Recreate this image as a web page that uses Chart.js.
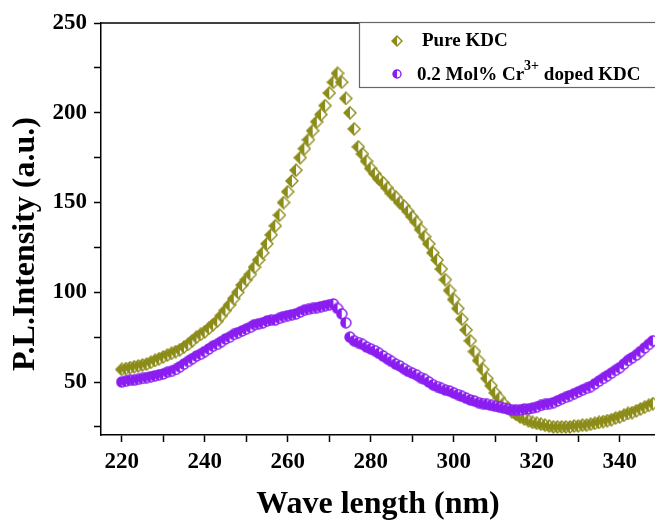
<!DOCTYPE html>
<html>
<head>
<meta charset="utf-8">
<script src="https://cdn.jsdelivr.net/npm/chart.js@4.4.1/dist/chart.umd.min.js"></script>
<style>
  html, body { margin: 0; padding: 0; background: #fff; }
  canvas { display: block; }
</style>
</head>
<body>
<canvas id="chart" width="655" height="524"></canvas>
<script>
// wavelength (nm), one reading per nm
const wavelengths = [
  220, 221, 222, 223, 224, 225, 226, 227, 228, 229,
  230, 231, 232, 233, 234, 235, 236, 237, 238, 239,
  240, 241, 242, 243, 244, 245, 246, 247, 248, 249,
  250, 251, 252, 253, 254, 255, 256, 257, 258, 259,
  260, 261, 262, 263, 264, 265, 266, 267, 268, 269,
  270, 271, 272, 273, 274, 275, 276, 277, 278, 279,
  280, 281, 282, 283, 284, 285, 286, 287, 288, 289,
  290, 291, 292, 293, 294, 295, 296, 297, 298, 299,
  300, 301, 302, 303, 304, 305, 306, 307, 308, 309,
  310, 311, 312, 313, 314, 315, 316, 317, 318, 319,
  320, 321, 322, 323, 324, 325, 326, 327, 328, 329,
  330, 331, 332, 333, 334, 335, 336, 337, 338, 339,
  340, 341, 342, 343, 344, 345, 346, 347, 348
];

const pureKdc = [
  57, 57.5, 58, 58.5, 59, 59.5, 60, 61, 62, 63,
  64, 65, 66, 67, 68, 69.5, 71, 73, 75, 76.5,
  78, 80, 82, 84, 87, 90, 93, 96.5, 100, 104,
  107, 110, 114, 118, 122, 127, 132, 137, 143, 150,
  156, 162, 168, 175, 180, 185, 190, 195, 199, 204,
  211, 217, 222, 217, 208, 200, 191, 181, 177, 173,
  169, 166, 163, 161, 158, 155, 153, 150, 148, 145,
  142, 139, 135, 131, 127, 122, 118, 113, 107, 101,
  96, 91, 85, 79, 73, 67, 62, 57, 52, 48,
  44, 41, 38, 35.5, 33.5, 32, 30.5, 29.5, 28.5, 27.5,
  27, 26.5, 26, 25.5, 25, 25, 25, 25, 25, 25.5,
  25.5, 26, 26, 26.5, 27, 27.5, 28, 28.5, 29, 30,
  30.5, 31.5, 32.5, 33, 34, 35, 36, 37, 38
];

const crDopedKdc = [
  50, 50.5, 51, 51, 51.5, 52, 52.5, 53, 53.5, 54,
  54.5, 55.5, 56, 57, 58.5, 60, 61.5, 63, 64.5, 65.5,
  67, 68.5, 70, 71, 72.5, 74, 75, 76.5, 77.5, 78.5,
  79.5, 80.5, 82, 82.5, 83, 84, 84.5, 84.5, 85.5, 86.5,
  87, 87.5, 88, 89, 90, 90.5, 91, 91.5, 92, 92.5,
  93, 93.5, 91, 88, 83, 75, 73, 72, 71, 69.5,
  68.5, 67.5, 66, 64.5, 63, 61.5, 60, 59, 57.5, 56,
  55, 54, 52.5, 51.5, 50, 48.5, 47.5, 46.5, 45.5, 45,
  44, 43, 42, 41, 40, 39.5, 38.5, 38, 37.5, 37,
  36.5, 36, 35.5, 35, 34.5, 34.5, 34.5, 35, 35, 35.5,
  36, 37, 37.5, 38, 38.5, 39.5, 40.5, 41.5, 42.5, 43.5,
  44.5, 45.5, 46.5, 47.5, 49, 50.5, 52, 53.5, 55, 56.5,
  58, 60, 62, 63.5, 65, 67, 69, 71, 73
];

const xTicks = [220, 230, 240, 250, 260, 270, 280, 290, 300, 310, 320, 330, 340];
const yTicks = [25, 50, 75, 100, 125, 150, 175, 200, 225, 250];

const OLIVE = '#8c8c1a';
const PURPLE = '#8a1ef0';
const SERIF = "'Liberation Serif', 'Times New Roman', serif";

// half-filled marker images
function halfMarker(shape, color, size) {
  const c = document.createElement('canvas');
  c.width = size;
  c.height = size;
  const g = c.getContext('2d');
  const m = size / 2;
  const r = m - 1;
  const path = () => {
    g.beginPath();
    if (shape === 'diamond') {
      g.moveTo(m, m - r);
      g.lineTo(m + r, m);
      g.lineTo(m, m + r);
      g.lineTo(m - r, m);
      g.closePath();
    } else {
      g.arc(m, m, r, 0, Math.PI * 2);
    }
  };
  path();
  g.fillStyle = '#fff';
  g.fill();
  g.save();
  g.beginPath();
  g.rect(0, 0, m, size);
  g.clip();
  path();
  g.fillStyle = color;
  g.fill();
  g.restore();
  path();
  g.strokeStyle = color;
  g.lineWidth = 1.4;
  g.stroke();
  return c;
}

const diamondImg = halfMarker('diamond', OLIVE, 14);
const circleImg = halfMarker('circle', PURPLE, 12);
const diamondSmall = halfMarker('diamond', OLIVE, 12);
const circleSmall = halfMarker('circle', PURPLE, 10);

const frameAndLegend = {
  id: 'frameAndLegend',
  afterDraw(chart) {
    const ctx = chart.ctx;
    const a = chart.chartArea;
    ctx.save();
    // top frame line
    ctx.strokeStyle = '#000';
    ctx.lineWidth = 1.5;
    ctx.beginPath();
    ctx.moveTo(a.left, a.top);
    ctx.lineTo(a.right, a.top);
    ctx.stroke();

    // legend box
    const bx = a.left + 258;
    const by = a.top - 1;
    ctx.fillStyle = '#fff';
    ctx.fillRect(bx, by, 400, 65);
    ctx.strokeStyle = '#666';
    ctx.lineWidth = 1.2;
    ctx.strokeRect(bx + 0.5, by + 0.5, 400, 65);

    ctx.drawImage(diamondSmall, bx + 38 - 6, by + 19 - 6);
    ctx.drawImage(circleSmall, bx + 38 - 5, by + 52 - 5);

    ctx.fillStyle = '#000';
    ctx.textBaseline = 'middle';
    ctx.textAlign = 'left';
    ctx.font = 'bold 19px ' + SERIF;
    ctx.fillText('Pure KDC', bx + 63, by + 19);
    let tx = bx + 58;
    const ty = by + 53;
    ctx.fillText('0.2 Mol% Cr', tx, ty);
    tx += ctx.measureText('0.2 Mol% Cr').width;
    ctx.font = 'bold 14px ' + SERIF;
    ctx.fillText('3+', tx, ty - 9);
    tx += ctx.measureText('3+').width;
    ctx.font = 'bold 19px ' + SERIF;
    ctx.fillText(' doped KDC', tx, ty);

    // y axis title
    ctx.translate(26, 244);
    ctx.rotate(-Math.PI / 2);
    ctx.textAlign = 'center';
    ctx.font = 'bold 32px ' + SERIF;
    ctx.fillText('P.L.Intensity (a.u.)', 0, 0);
    ctx.restore();
  }
};

const tickFont = { family: SERIF, size: 23, weight: 'bold' };

new Chart(document.getElementById('chart').getContext('2d'), {
  type: 'scatter',
  data: {
    datasets: [
      {
        label: '0.2 Mol% Cr3+ doped KDC',
        data: wavelengths.map((x, i) => ({ x, y: crDopedKdc[i] })),
        pointStyle: circleImg,
        pointRadius: 6,
        order: 0,
      },
      {
        label: 'Pure KDC',
        data: wavelengths.map((x, i) => ({ x, y: pureKdc[i] })),
        pointStyle: diamondImg,
        pointRadius: 7,
        order: 1,
      },
    ],
  },
  options: {
    responsive: false,
    animation: false,
    layout: { autoPadding: false, padding: { top: 23, right: 0, bottom: 0, left: 0 } },
    plugins: {
      legend: { display: false },
      tooltip: { enabled: false },
    },
    scales: {
      x: {
        type: 'linear',
        min: 215,
        max: 348.5,
        afterBuildTicks: (s) => { s.ticks = xTicks.map((v) => ({ value: v })); },
        afterFit: (s) => {
          s.height = 89;
          s.paddingLeft = 0;
          s.paddingRight = 0;
        },
        ticks: {
          callback: (v) => (v % 20 === 0 ? String(v) : ''),
          font: tickFont,
          color: '#000',
          padding: 6,
          maxRotation: 0,
          autoSkip: false,
        },
        grid: { drawOnChartArea: false, tickLength: 7, tickWidth: 1.5, color: '#000' },
        border: { color: '#000', width: 1.5 },
        title: {
          display: true,
          text: 'Wave length (nm)',
          font: { family: SERIF, size: 32, weight: 'bold' },
          color: '#000',
          padding: { top: 4, bottom: 0 },
        },
      },
      y: {
        min: 20.5,
        max: 250,
        afterBuildTicks: (s) => { s.ticks = yTicks.map((v) => ({ value: v })); },
        afterFit: (s) => {
          s.width = 101;
          s.paddingTop = 0;
          s.paddingBottom = 0;
        },
        ticks: {
          callback: (v) => (v % 50 === 0 ? String(v) : ''),
          font: tickFont,
          color: '#000',
          padding: 7,
        },
        grid: { drawOnChartArea: false, tickLength: 7, tickWidth: 1.5, color: '#000' },
        border: { color: '#000', width: 1.5 },
      },
    },
  },
  plugins: [frameAndLegend],
});
</script>
</body>
</html>
